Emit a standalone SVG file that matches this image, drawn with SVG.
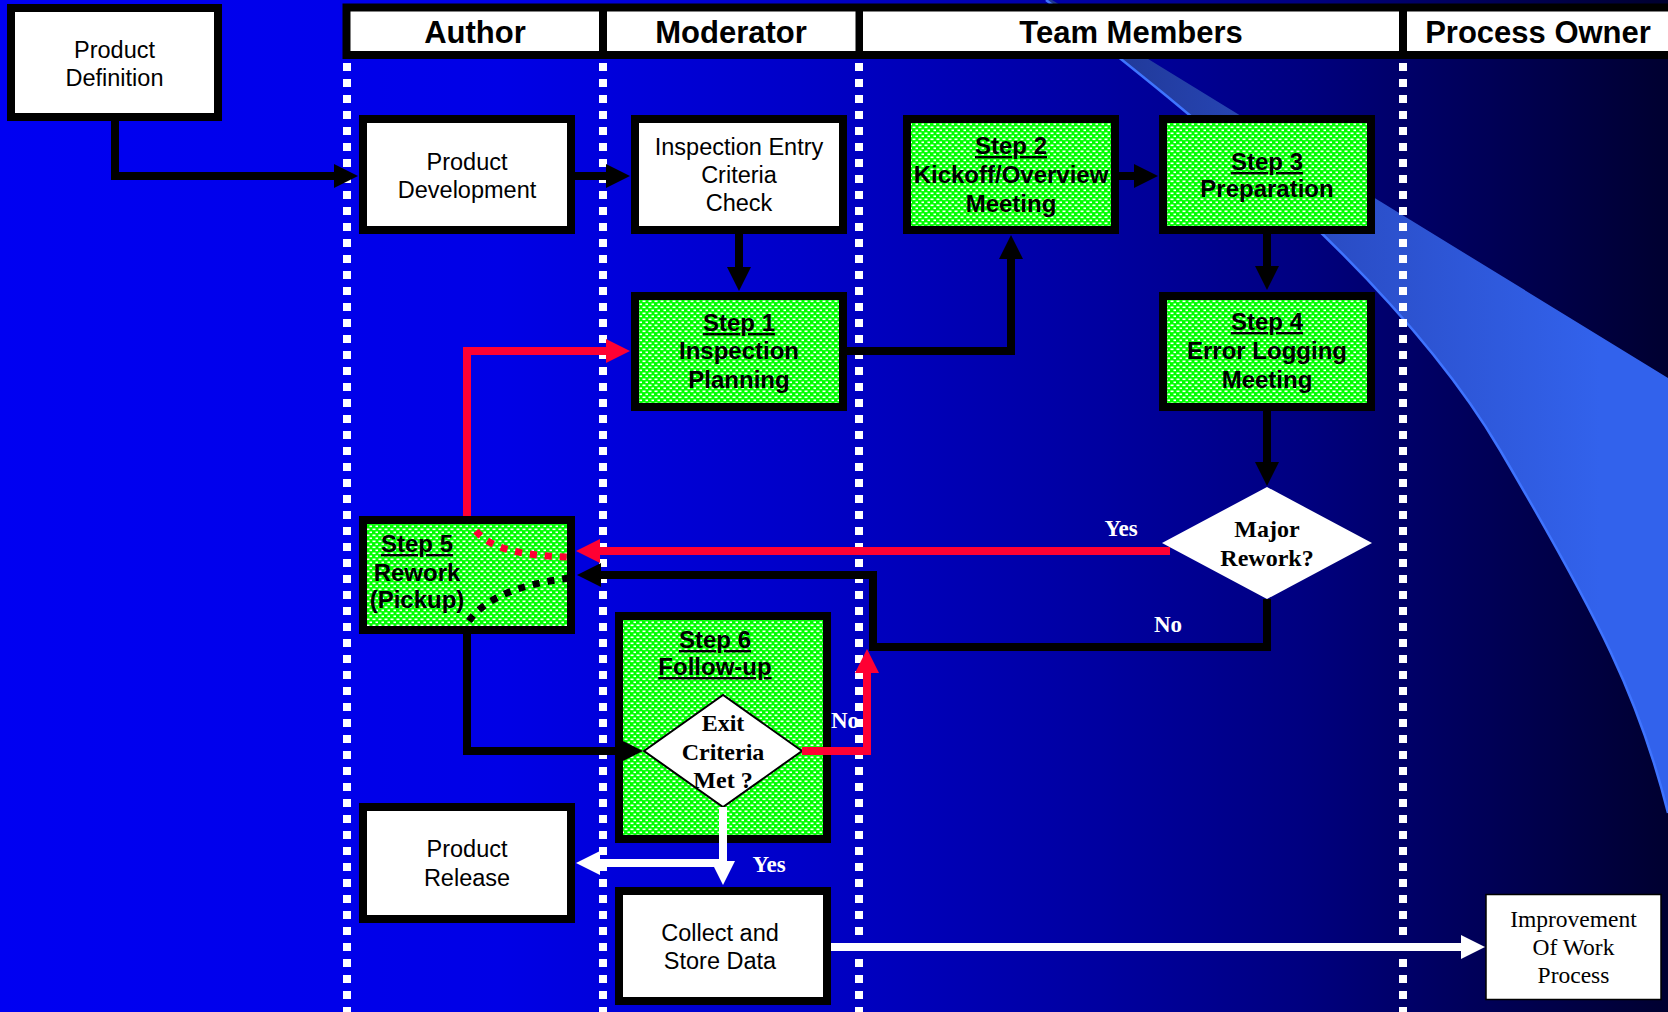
<svg xmlns="http://www.w3.org/2000/svg" width="1668" height="1012" viewBox="0 0 1668 1012">
  <style>
    .box { fill: #ffffff; stroke: #000000; stroke-width: 8; }
    .step { fill: url(#dots); stroke: #000000; stroke-width: 8; }
    .t { font-family: "Liberation Sans", Arial, sans-serif; font-size: 23.5px; fill: #000000; text-anchor: middle; }
    .b { font-weight: bold; font-size: 24px; }
    .u { text-decoration: underline; }
    .hd { font-family: "Liberation Sans", Arial, sans-serif; font-size: 31px; font-weight: bold; fill: #000000; text-anchor: middle; }
    .q { font-family: "Liberation Serif", "Times New Roman", serif; font-size: 24px; font-weight: bold; fill: #000000; text-anchor: middle; }
    .lbl { font-family: "Liberation Serif", "Times New Roman", serif; font-size: 23px; font-weight: bold; fill: #ffffff; text-anchor: middle; }
    .imp { font-family: "Liberation Serif", "Times New Roman", serif; font-size: 23.5px; fill: #000000; text-anchor: middle; }
    .lane { stroke: #ffffff; stroke-width: 8; stroke-dasharray: 8 8; fill: none; }
    .k { fill: none; stroke: #000000; stroke-width: 8; marker-end: url(#ah-k); }
    .r { fill: none; stroke: #ff0033; stroke-width: 8; marker-end: url(#ah-r); }
    .w { fill: none; stroke: #ffffff; stroke-width: 8; marker-end: url(#ah-w); }
    .dot-r { fill: none; stroke: #ff0033; stroke-width: 7; stroke-dasharray: 7 8; }
    .dot-k { fill: none; stroke: #000000; stroke-width: 7; stroke-dasharray: 7 8; }
  </style>
  <defs>
    <linearGradient id="bg" x1="0" y1="0" x2="1" y2="0">
      <stop offset="0" stop-color="#0000f2"/>
      <stop offset="0.30" stop-color="#0000e6"/>
      <stop offset="0.48" stop-color="#0000c8"/>
      <stop offset="0.66" stop-color="#0000a0"/>
      <stop offset="0.78" stop-color="#000080"/>
      <stop offset="0.86" stop-color="#000062"/>
      <stop offset="1" stop-color="#000030"/>
    </linearGradient>
    <linearGradient id="swoosh" gradientUnits="userSpaceOnUse" x1="1100" y1="0" x2="1600" y2="0">
      <stop offset="0" stop-color="#203896"/>
      <stop offset="0.45" stop-color="#2a4cc4"/>
      <stop offset="1" stop-color="#3262ec"/>
    </linearGradient>
    <pattern id="dots" patternUnits="userSpaceOnUse" width="6" height="6">
      <rect width="6" height="6" fill="#00ff00"/>
      <rect x="0.5" y="0.5" width="3" height="1.6" fill="#ffffff"/>
      <rect x="3.5" y="3.5" width="3" height="1.6" fill="#ffffff"/>
    </pattern>
    <marker id="ah-k" markerUnits="userSpaceOnUse" markerWidth="26" markerHeight="26" refX="1" refY="12" orient="auto" viewBox="0 0 26 24">
      <path d="M0,0 L24,12 L0,24 Z" fill="#000000"/>
    </marker>
    <marker id="ah-r" markerUnits="userSpaceOnUse" markerWidth="26" markerHeight="26" refX="1" refY="12" orient="auto" viewBox="0 0 26 24">
      <path d="M0,0 L24,12 L0,24 Z" fill="#ff0033"/>
    </marker>
    <marker id="ah-w" markerUnits="userSpaceOnUse" markerWidth="26" markerHeight="26" refX="1" refY="12" orient="auto" viewBox="0 0 26 24">
      <path d="M0,0 L24,12 L0,24 Z" fill="#ffffff"/>
    </marker>
  </defs>

  <!-- backdrop -->
  <rect width="1668" height="1012" fill="url(#bg)"/>
  <path d="M1046,0 L1052,0 L1668,378 L1668,813 C1640,700 1600,620 1500,450 C1400,280 1200,120 1046,0 Z" fill="url(#swoosh)"/>
  <path d="M1046,0 C1200,120 1400,280 1500,450 C1600,620 1640,700 1668,813" fill="none" stroke="#3f74ff" stroke-width="2.5"/>

  <!-- swimlane dividers -->
  <g id="lanes">
    <line class="lane" x1="347" y1="63" x2="347" y2="1012"/>
    <line class="lane" x1="603" y1="63" x2="603" y2="1012"/>
    <line class="lane" x1="859" y1="63" x2="859" y2="1012"/>
    <line class="lane" x1="1403" y1="63" x2="1403" y2="1012"/>
  </g>

  <!-- lane headers -->
  <g id="header">
    <rect x="342.5" y="3.5" width="1326" height="55.5" fill="#000000"/>
    <rect x="350.5" y="11.5" width="248.5" height="39.5" fill="#ffffff"/>
    <rect x="607" y="11.5" width="248.5" height="39.5" fill="#ffffff"/>
    <rect x="863" y="11.5" width="536" height="39.5" fill="#ffffff"/>
    <rect x="1407" y="11.5" width="261" height="39.5" fill="#ffffff"/>
    <text class="hd" x="475" y="43">Author</text>
    <text class="hd" x="731" y="43">Moderator</text>
    <text class="hd" x="1131" y="43">Team Members</text>
    <text class="hd" x="1538" y="43">Process Owner</text>
  </g>

  <g id="nodes">
    <g id="product-definition">
      <rect class="box" x="11" y="8" width="207" height="109"/>
      <text class="t"><tspan x="114.5" y="58">Product</tspan><tspan x="114.5" y="86">Definition</tspan></text>
    </g>
    <g id="product-development">
      <rect class="box" x="363" y="119" width="208" height="111"/>
      <text class="t"><tspan x="467" y="170">Product</tspan><tspan x="467" y="198">Development</tspan></text>
    </g>
    <g id="entry-check">
      <rect class="box" x="635" y="119" width="208" height="111"/>
      <text class="t"><tspan x="739" y="155">Inspection Entry</tspan><tspan x="739" y="183">Criteria</tspan><tspan x="739" y="211">Check</tspan></text>
    </g>
    <g id="step2">
      <rect class="step" x="907" y="119" width="208" height="111"/>
      <text class="t b"><tspan class="u" x="1011" y="154">Step 2</tspan><tspan x="1011" y="183">Kickoff/Overview</tspan><tspan x="1011" y="212">Meeting</tspan></text>
    </g>
    <g id="step3">
      <rect class="step" x="1163" y="119" width="208" height="111"/>
      <text class="t b"><tspan class="u" x="1267" y="170">Step 3</tspan><tspan x="1267" y="197">Preparation</tspan></text>
    </g>
    <g id="step1">
      <rect class="step" x="635" y="296" width="208" height="111"/>
      <text class="t b"><tspan class="u" x="739" y="331">Step 1</tspan><tspan x="739" y="359">Inspection</tspan><tspan x="739" y="388">Planning</tspan></text>
    </g>
    <g id="step4">
      <rect class="step" x="1163" y="296" width="208" height="111"/>
      <text class="t b"><tspan class="u" x="1267" y="330">Step 4</tspan><tspan x="1267" y="359">Error Logging</tspan><tspan x="1267" y="388">Meeting</tspan></text>
    </g>
    <g id="major-rework">
      <polygon points="1162,543 1267,487 1372,543 1267,599" fill="#ffffff"/>
      <text class="q"><tspan x="1267" y="537">Major</tspan><tspan x="1267" y="566">Rework?</tspan></text>
    </g>
    <g id="step5">
      <rect class="step" x="363" y="520" width="208" height="110"/>
      <text class="t b"><tspan class="u" x="417" y="552">Step 5</tspan><tspan x="417" y="581">Rework</tspan><tspan x="417" y="608">(Pickup)</tspan></text>
    </g>
    <g id="step6">
      <rect class="step" x="619" y="616" width="208" height="223"/>
      <text class="t b"><tspan class="u" x="715" y="648">Step 6</tspan><tspan class="u" x="715" y="675">Follow-up</tspan></text>
    </g>
    <g id="exit-criteria">
      <polygon points="644,751 723,695 802,751 723,807" fill="#ffffff" stroke="#000000" stroke-width="2"/>
      <text class="q"><tspan x="723" y="731">Exit</tspan><tspan x="723" y="760">Criteria</tspan><tspan x="723" y="788">Met ?</tspan></text>
    </g>
    <g id="product-release">
      <rect class="box" x="363" y="807" width="208" height="112"/>
      <text class="t"><tspan x="467" y="857">Product</tspan><tspan x="467" y="886">Release</tspan></text>
    </g>
    <g id="collect-data">
      <rect class="box" x="619" y="891" width="208" height="110"/>
      <text class="t"><tspan x="720" y="941">Collect and</tspan><tspan x="720" y="969">Store Data</tspan></text>
    </g>
    <g id="improvement">
      <rect x="1486" y="894.5" width="175" height="105" fill="#ffffff" stroke="#000000" stroke-width="1.5"/>
      <text class="imp"><tspan x="1573.5" y="927">Improvement</tspan><tspan x="1573.5" y="955">Of Work</tspan><tspan x="1573.5" y="983">Process</tspan></text>
    </g>
  </g>

  <g id="connectors">
    <path class="k" d="M115,121 V176 H335"/>
    <path class="k" d="M571,176 H607"/>
    <path class="k" d="M739,234 V268"/>
    <path class="k" d="M847,351 H1011 V258"/>
    <path class="k" d="M1119,176 H1135"/>
    <path class="k" d="M1267,234 V267"/>
    <path class="k" d="M1267,411 V463"/>
    <path class="r" d="M1170,551 H599"/>
    <path class="k" d="M1267,599 V647 H873 V575 H600"/>
    <path class="r" d="M467,516 V351 H607"/>
    <path class="k" d="M467,634 V751 H620"/>
    <path class="r" d="M802,751 H867 V672"/>
    <path class="w" d="M723,807 V862"/>
    <path class="w" d="M727,863 H599"/>
    <path class="w" d="M831,947 H1462"/>
    <path class="dot-r" d="M476,531 C490,548 520,556 570,557"/>
    <path class="dot-k" d="M469,621 C485,598 520,584 570,578"/>
    <text class="lbl" x="1121" y="536">Yes</text>
    <text class="lbl" x="1168" y="632">No</text>
    <text class="lbl" x="845" y="728">No</text>
    <text class="lbl" x="769" y="872">Yes</text>
  </g>
</svg>
